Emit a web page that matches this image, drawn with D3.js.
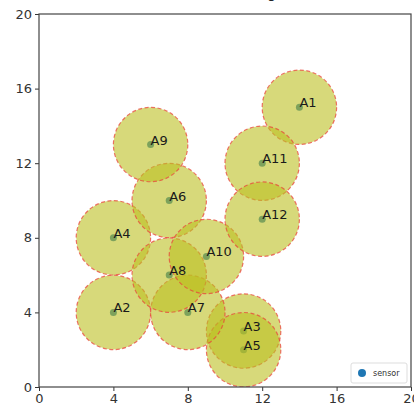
<!DOCTYPE html>
<html>
<head>
<meta charset="utf-8">
<script src="https://cdn.jsdelivr.net/npm/d3@7"></script>
<style>
  body { margin: 0; background: #fff; }
  svg { display: block; font-family: "DejaVu Sans", sans-serif; }
</style>
</head>
<body>
<svg id="chart" width="414" height="410"></svg>
<script>
// Sensor layout: names, positions and coverage radius (data units)
const names = ["A1", "A2", "A3", "A4", "A5", "A6", "A7", "A8", "A9", "A10", "A11", "A12"];
const xs    = [14, 4, 11, 4, 11, 7, 8, 7, 6, 9, 12, 12];
const ys    = [15, 4, 3, 8, 2, 10, 4, 6, 13, 7, 12, 9];
const coverageRadius = 2;
const tickValues = [0, 4, 8, 12, 16, 20];

const sensors = names.map((n, i) => ({ name: n, x: xs[i], y: ys[i] }));

const svg = d3.select("#chart");
const margin = { left: 39, right: 3, top: 14, bottom: 23 };
const W = 414, H = 410;

const x = d3.scaleLinear().domain([0, 20]).range([margin.left, W - margin.right]);
const y = d3.scaleLinear().domain([0, 20]).range([H - margin.bottom, margin.top]);

// Title (sits above the visible area)
svg.append("text")
  .attr("x", (x(0) + x(20)) / 2)
  .attr("y", -2)
  .attr("text-anchor", "middle")
  .attr("font-size", 14)
  .attr("fill", "#222")
  .text("Sensor Coverage");

const clip = svg.append("defs").append("clipPath").attr("id", "plotclip")
  .append("rect")
  .attr("x", x(0)).attr("y", y(20))
  .attr("width", x(20) - x(0)).attr("height", y(0) - y(20));

const plot = svg.append("g").attr("clip-path", "url(#plotclip)");

// Sensor points
plot.selectAll("circle.pt")
  .data(sensors)
  .join("circle")
  .attr("class", "pt")
  .attr("cx", d => x(d.x))
  .attr("cy", d => y(d.y))
  .attr("r", 3.5)
  .attr("fill", "#1f77b4");

// Coverage discs
plot.selectAll("circle.cov")
  .data(sensors)
  .join("circle")
  .attr("class", "cov")
  .attr("cx", d => x(d.x))
  .attr("cy", d => y(d.y))
  .attr("r", d => x(d.x + coverageRadius) - x(d.x))
  .attr("fill", "#bcbf22")
  .attr("fill-opacity", 0.6)
  .attr("stroke", "#e8463a")
  .attr("stroke-opacity", 0.75)
  .attr("stroke-width", 1.2)
  .attr("stroke-dasharray", "4,2.5");

// Labels
plot.selectAll("text.lbl")
  .data(sensors)
  .join("text")
  .attr("class", "lbl")
  .attr("x", d => x(d.x))
  .attr("y", d => y(d.y))
  .attr("font-size", 13)
  .attr("fill", "#1a1a1a")
  .text(d => d.name);

// Axes
const xAxis = d3.axisBottom(x).tickValues(tickValues).tickSize(4).tickPadding(3);
const yAxis = d3.axisLeft(y).tickValues(tickValues).tickSize(4).tickPadding(3);

const gx = svg.append("g").attr("transform", `translate(0,${y(0)})`).call(xAxis);
const gy = svg.append("g").attr("transform", `translate(${x(0)},0)`).call(yAxis);
[gx, gy].forEach(g => {
  g.select(".domain").remove();
  g.selectAll(".tick line").attr("stroke", "#333");
  g.selectAll(".tick text").attr("font-size", 13).attr("fill", "#333")
    .attr("font-family", "DejaVu Sans, sans-serif");
});

// Frame
svg.append("rect")
  .attr("x", x(0)).attr("y", y(20))
  .attr("width", x(20) - x(0)).attr("height", y(0) - y(20))
  .attr("fill", "none").attr("stroke", "#444").attr("stroke-width", 1.2);

// Legend
const lg = svg.append("g").attr("transform", `translate(${x(20) - 60},${y(0) - 24})`);
lg.append("rect").attr("width", 56).attr("height", 20).attr("rx", 2)
  .attr("fill", "#fff").attr("fill-opacity", 0.9).attr("stroke", "#ddd");
lg.append("circle").attr("cx", 11).attr("cy", 10).attr("r", 4).attr("fill", "#1f77b4");
lg.append("text").attr("x", 22).attr("y", 13).attr("font-size", 8).attr("fill", "#333").text("sensor");
</script>
</body>
</html>
